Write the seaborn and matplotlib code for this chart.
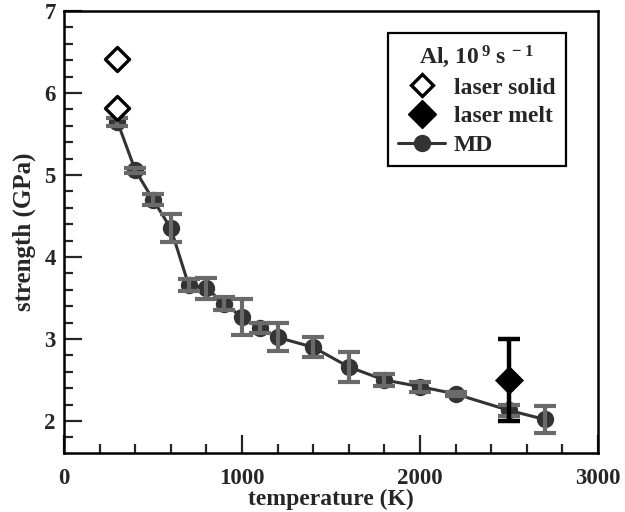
import numpy as np
import pandas as pd
import matplotlib
matplotlib.use("Agg")
import matplotlib.pyplot as plt
from matplotlib.lines import Line2D
import seaborn as sns

# MD simulation strength vs temperature
md_temp = [300, 400, 500, 600, 700, 800, 900, 1000, 1100, 1200, 1400, 1600, 1800, 2000, 2200, 2500, 2700]
md_strength = [5.65, 5.06, 4.70, 4.35, 3.66, 3.62, 3.43, 3.27, 3.13, 3.02, 2.90, 2.66, 2.50, 2.42, 2.33, 2.13, 2.02]
md_err = [0.05, 0.03, 0.07, 0.17, 0.07, 0.13, 0.08, 0.22, 0.06, 0.17, 0.12, 0.18, 0.07, 0.06, 0.03, 0.07, 0.16]

# laser experiments
solid_temp = [300, 300]
solid_strength = [6.42, 5.82]
melt_temp = [2500]
melt_strength = [2.5]
melt_err = [0.5]

xticks = [0, 1000, 2000, 3000]
yticks = [2, 3, 4, 5, 6, 7]

sns.set_style("ticks")
plt.rcParams["font.family"] = ["Liberation Serif", "DejaVu Serif"]
plt.rcParams["font.weight"] = "bold"
plt.rcParams["mathtext.default"] = "regular"

fig = plt.figure(figsize=(6.25, 5.12), dpi=100)
ax = fig.add_axes([0.1024, 0.1152, 0.8544, 0.8633])

md = pd.DataFrame({"T": md_temp, "S": md_strength})
sns.lineplot(data=md, x="T", y="S", ax=ax, color="#333333", lw=2.2,
             marker="o", markersize=12.5, markeredgewidth=0,
             markerfacecolor="#333333", zorder=3)
ax.errorbar(md_temp, md_strength, yerr=md_err, fmt="none", ecolor="#6a6a6a",
            elinewidth=3, capsize=8, capthick=3, zorder=4)

ax.errorbar(melt_temp, melt_strength, yerr=melt_err, fmt="none", ecolor="black",
            elinewidth=3.2, capsize=8, capthick=3.2, zorder=5)
sns.scatterplot(x=melt_temp, y=melt_strength, ax=ax, marker="D", s=220,
                color="black", edgecolor="black", linewidth=0, zorder=6)
sns.scatterplot(x=solid_temp, y=solid_strength, ax=ax, marker="D", s=150,
                facecolor="white", edgecolor="black", linewidth=2.4, zorder=6)

ax.set_xlim(0, 3000)
ax.set_ylim(1.61, 7.0)
ax.set_xticks(xticks)
ax.set_yticks(yticks)
ax.set_xticks(np.arange(200, 3000, 200), minor=True)
ax.set_yticks(np.arange(1.8, 7.0, 0.2), minor=True)
ax.tick_params(which="major", direction="in", length=13, width=1.6,
               labelsize=16.5, top=False, right=False)
ax.tick_params(axis="x", which="major", pad=11)
ax.tick_params(axis="y", which="major", pad=6)
ax.tick_params(which="minor", direction="in", length=6.5, width=1.6,
               top=False, right=False)
for sp in ax.spines.values():
    sp.set_linewidth(1.8)
    sp.set_color("black")
    sp.set_visible(True)

ax.set_xlabel("temperature (K)", fontsize=17, fontweight="bold", labelpad=0)
ax.set_ylabel("strength (GPa)", fontsize=18, fontweight="bold", labelpad=6)

handles = [
    Line2D([], [], ls="none", marker="D", markersize=11, markerfacecolor="white",
           markeredgecolor="black", markeredgewidth=2.4),
    Line2D([], [], ls="none", marker="D", markersize=14, markerfacecolor="black",
           markeredgecolor="black"),
    Line2D([], [], color="#333333", lw=2.2, marker="o", markersize=12.5,
           markerfacecolor="#333333", markeredgewidth=0),
]
leg = ax.legend(handles, ["laser solid", "laser melt", "MD"],
                title=r"Al, 10$^{\,9}$ s$^{\,-1}$",
                loc="upper right", bbox_to_anchor=(0.94, 0.95), borderaxespad=0,
                prop={"size": 17, "weight": "bold"}, title_fontproperties={"size": 17, "weight": "bold"},
                frameon=True, fancybox=False, edgecolor="black", framealpha=1,
                handlelength=2.0, handletextpad=0.35, borderpad=0.45, labelspacing=0.3)
leg.get_frame().set_linewidth(1.6)

fig.savefig("out.png", dpi=100)
